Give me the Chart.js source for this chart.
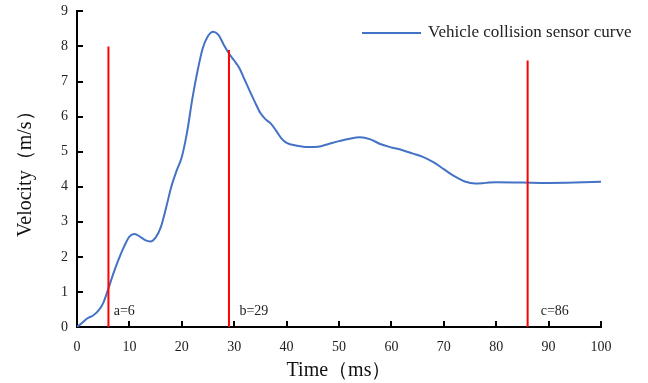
<!DOCTYPE html>
<html>
<head>
<meta charset="utf-8">
<script src="https://cdn.jsdelivr.net/npm/chart.js@4/dist/chart.umd.min.js"></script>
<style>
  html,body{margin:0;padding:0;background:#fff;}
  #wrap{width:648px;height:383px;position:relative;}
</style>
</head>
<body>
<div id="wrap"><canvas id="c" width="648" height="383"></canvas></div>
<script>
// ---- data ----
const timeMs = [0,1,2,3,4,5,6,7,8,9,10,11,12,13,14,15,16,17,18,19,20,21,22,23,24,25,26,27,28,29,30,31,32,33,34,35,36,37,38,39,40,42,44,46,48,50,52,54,56,58,60,62,64,66,68,70,72,74,76,78,80,85,90,95,100];
const velocity = [0,0.12,0.25,0.32,0.45,0.68,1.1,1.55,1.95,2.3,2.58,2.65,2.58,2.48,2.44,2.55,2.85,3.4,4.0,4.45,4.85,5.55,6.5,7.3,7.95,8.3,8.42,8.33,8.05,7.8,7.6,7.38,7.05,6.72,6.4,6.1,5.92,5.8,5.6,5.38,5.25,5.17,5.13,5.14,5.22,5.3,5.37,5.41,5.35,5.21,5.12,5.05,4.95,4.85,4.7,4.5,4.3,4.15,4.09,4.11,4.13,4.12,4.11,4.12,4.14];
const seriesName = 'Vehicle collision sensor curve';

const markerNames = ['a=6','b=29','c=86'];
const markerTimes = [6, 29, 86];
const markerTops = [8.0, 7.9, 7.6];
const markerLabelTimes = [7, 31, 88.5];
const markerLabelVelocity = 0.45;

const xTicks = [0,10,20,30,40,50,60,70,80,90,100];
const yTicks = [0,1,2,3,4,5,6,7,8,9];
const xTitle = 'Time（ms）';
const yTitle = 'Velocity（m/s）';

const BLUE = '#4472C4';
const RED = '#FF0000';
const SERIF = '"Liberation Serif","DejaVu Serif",serif';

const datasets = [{
  label: seriesName,
  data: timeMs.map((t,i)=>({x:t,y:velocity[i]})),
  borderColor: BLUE,
  backgroundColor: BLUE,
  borderWidth: 2,
  pointRadius: 0,
  cubicInterpolationMode: 'monotone',
  order: 2
}];
markerTimes.forEach((t,i)=>{
  datasets.push({
    label: markerNames[i],
    data: [{x:t,y:0},{x:t,y:markerTops[i]}],
    borderColor: RED,
    backgroundColor: RED,
    borderWidth: 2,
    pointRadius: 0,
    order: 1
  });
});

const inwardTicks = {
  id: 'inwardTicks',
  afterDatasetsDraw(chart){
    const {ctx, chartArea:a, scales:{x,y}} = chart;
    ctx.save();
    ctx.strokeStyle = '#000';
    ctx.lineWidth = 2;
    xTicks.forEach(v=>{
      if (v===0) return;
      const px = Math.round(x.getPixelForValue(v));
      ctx.beginPath(); ctx.moveTo(px, a.bottom); ctx.lineTo(px, a.bottom-6); ctx.stroke();
    });
    yTicks.forEach(v=>{
      if (v===0) return;
      const py = Math.round(y.getPixelForValue(v));
      ctx.beginPath(); ctx.moveTo(a.left, py); ctx.lineTo(a.left+6, py); ctx.stroke();
    });
    // marker labels
    ctx.fillStyle = '#222';
    ctx.font = '14px ' + SERIF;
    ctx.textBaseline = 'middle';
    ctx.textAlign = 'left';
    markerNames.forEach((n,i)=>{
      ctx.fillText(n, x.getPixelForValue(markerLabelTimes[i]), y.getPixelForValue(markerLabelVelocity));
    });
    // legend
    ctx.strokeStyle = BLUE;
    ctx.lineWidth = 2;
    ctx.beginPath(); ctx.moveTo(362, 33); ctx.lineTo(421, 33); ctx.stroke();
    ctx.font = '17px ' + SERIF;
    ctx.fillText(seriesName, 428, 33);
    ctx.restore();
  }
};

new Chart(document.getElementById('c'), {
  type: 'line',
  data: { datasets },
  options: {
    responsive: false,
    animation: false,
    layout: { padding: { top: 0, right: 47, bottom: 0, left: 14 } },
    plugins: { legend: { display: false }, tooltip: { enabled: false } },
    scales: {
      x: {
        type: 'linear', min: 0, max: 100,
        afterBuildTicks: s => { s.ticks = xTicks.map(v=>({value:v})); },
        grid: { display: false },
        border: { display: true, color: '#000', width: 2 },
        ticks: { color: '#222', font: { family: SERIF, size: 14 }, padding: 4, maxRotation: 0 },
        title: { display: true, text: xTitle, color: '#111', font: { family: SERIF, size: 20 }, padding: { top: 0, bottom: 0 } },
        afterFit: s => { s.height = 56; }
      },
      y: {
        type: 'linear', min: 0, max: 9,
        afterBuildTicks: s => { s.ticks = yTicks.map(v=>({value:v})); },
        grid: { display: false, tickLength: 6 },
        border: { display: true, color: '#000', width: 2 },
        ticks: { color: '#222', font: { family: SERIF, size: 14 }, padding: 3 },
        title: { display: true, text: yTitle, color: '#111', font: { family: SERIF, size: 20 }, padding: { top: 0, bottom: 6 } },
        afterFit: s => { s.width = 63; }
      }
    }
  },
  plugins: [inwardTicks]
});
</script>
</body>
</html>
